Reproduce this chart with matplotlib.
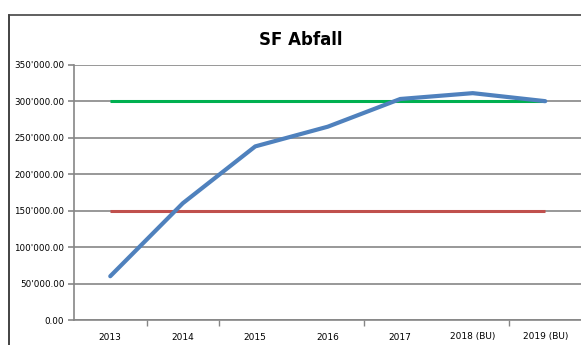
import matplotlib
matplotlib.use("Agg")
import matplotlib.pyplot as plt
from matplotlib.lines import Line2D
from matplotlib.ticker import FuncFormatter

# data
years = ["2013", "2014", "2015", "2016", "2017", "2018 (BU)", "2019 (BU)"]
abfall = [60000, 160000, 238000, 265000, 303000, 311000, 300000]
upper_limit = [300000] * 7
lower_limit = [150000] * 7

W, H = 581, 345
fig = plt.figure(figsize=(W / 100, H / 100), dpi=100)
fnt = ["Liberation Sans Narrow", "DejaVu Sans"]

# plot area in pixel coords
left, right, top, bottom = 74, 581.5, 64.7, 320
ax = fig.add_axes([left / W, 1 - bottom / H, (right - left) / W, (bottom - top) / H])

x = list(range(len(years)))
ax.plot(x, upper_limit, color="#00B050", lw=2.2, solid_capstyle="butt", zorder=3)
ax.plot(x, lower_limit, color="#C0504D", lw=2.2, solid_capstyle="butt", zorder=3)
ax.plot(x, abfall, color="#4F81BD", lw=3.0, solid_capstyle="round", zorder=4)

ax.set_xlim(-0.5, len(years) - 0.5)
ax.set_ylim(0, 350000)
ax.set_yticks(range(0, 350001, 50000))

def fmt(v, pos):
    if v == 0:
        return "0.00"
    return "{:,.2f}".format(v).replace(",", "'")

ax.yaxis.set_major_formatter(FuncFormatter(fmt))
ax.grid(axis="y", color="#868686", lw=1.2)
ax.set_axisbelow(True)

ax.set_xticks(x)
ax.set_xticklabels(years)
# only the category ticks that show in the original
ax.set_xticks([0.5, 1.5, 3.5, 5.5], minor=True)
ax.tick_params(axis="x", which="major", length=0, pad=9, labelsize=6.5)
ax.tick_params(axis="x", which="minor", length=4, color="#868686", width=1)
ax.tick_params(axis="y", length=4, color="#868686", width=1.2, pad=3, labelsize=6.3)
for lbl in ax.get_xticklabels() + ax.get_yticklabels():
    lbl.set_family(fnt)

for s in ["top", "right"]:
    ax.spines[s].set_visible(False)
ax.spines["left"].set_color("#868686")
ax.spines["bottom"].set_color("#868686")
ax.spines["left"].set_linewidth(1.2)
ax.spines["bottom"].set_linewidth(1.2)

fig.text(301 / W, 1 - 40 / H, "SF Abfall", ha="center", va="center",
         fontsize=12, fontweight="bold", family=fnt)

# outer chart border (cut off at right and bottom)
fig.add_artist(Line2D([9 / W, 9 / W], [0, 1 - 15 / H], color="#222222", lw=1.2,
                      transform=fig.transFigure))
fig.add_artist(Line2D([9 / W, 1], [1 - 15 / H, 1 - 15 / H], color="#444444", lw=1.2,
                      transform=fig.transFigure))

fig.savefig("out.png", dpi=100)
